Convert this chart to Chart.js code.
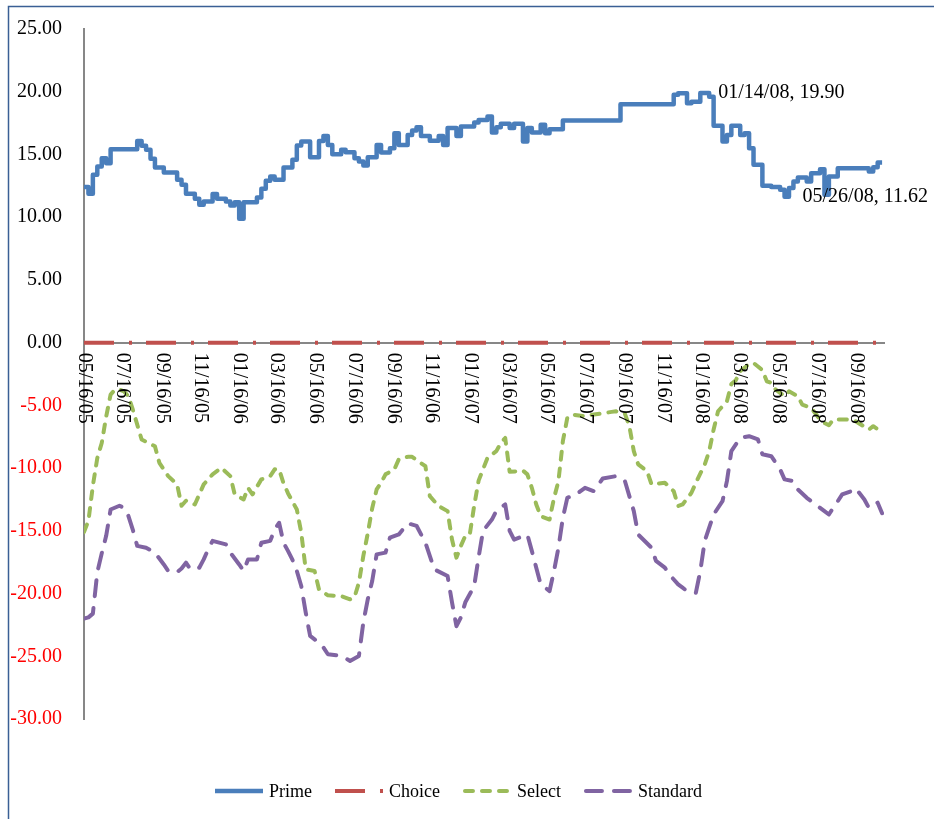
<!DOCTYPE html>
<html><head><meta charset="utf-8">
<script src="https://cdn.jsdelivr.net/npm/chart.js@4.4.0/dist/chart.umd.min.js"></script>
<style>html,body{margin:0;padding:0;background:#fff;}canvas{display:block;}</style>
</head><body>
<canvas id="c" width="934" height="819"></canvas>
<script>
// ---- data (x = weeks after 05/16/05, weekly Monday observations) ----
const startDate = '05/16/05';
const tickLabels = ['05/16/05','07/16/05','09/16/05','11/16/05','01/16/06','03/16/06','05/16/06','07/16/06','09/16/06','11/16/06','01/16/07','03/16/07','05/16/07','07/16/07','09/16/07','11/16/07','01/16/08','03/16/08','05/16/08','07/16/08','09/16/08'];
const yTickValues = [25,20,15,10,5,0,-5,-10,-15,-20,-25,-30];
const seriesNames = ['Prime','Choice','Select','Standard'];

const primeWeeks  = [0,1,2,3,4,5,6,12,13,14,15,16,18,21,22,23,25,26,27,29,30,32,33,34,35,36,39,40,41,42,43,45,47,48,49,51,53,54,55,56,58,59,61,62,63,64,66,67,69,70,71,73,74,75,76,78,80,81,82,84,85,88,89,91,92,93,94,96,97,99,100,101,103,104,105,108,121,133,134,136,137,139,141,142,144,145,146,148,149,150,151,153,155,157,158,159,160,161,163,164,166,167,168,170,177,178,179,180];
const primeValues = [12.4,11.86,13.38,14.04,14.7,14.3,15.42,16.08,15.7,15.37,14.65,13.96,13.56,12.98,12.58,11.86,11.46,10.99,11.25,11.84,11.46,11.25,10.93,11.2,9.87,11.2,11.57,12.26,12.9,13.24,12.98,13.96,14.57,15.71,16.03,14.78,16.08,16.48,15.76,15.02,15.37,15.18,14.7,14.44,14.12,14.78,15.76,15.15,15.5,16.7,15.76,16.56,16.9,17.17,16.48,16.1,16.48,15.76,17.1,16.48,17.22,17.54,17.75,18.02,16.75,17.17,17.44,17.1,17.44,16.03,17.1,16.75,17.36,16.7,17.0,17.7,19.0,19.75,19.88,19.08,19.2,19.9,19.6,17.28,16.03,16.56,17.28,16.56,16.7,15.5,14.17,12.5,12.4,12.18,11.62,12.32,12.85,13.16,12.85,13.51,13.83,11.78,13.24,13.9,13.64,13.99,14.36,14.36];

const choiceWeeks  = [0,180];
const choiceValues = [0,0];

const selectWeeks  = [0,1,2,3,4,5,6,7,8,9,10,11,13,16,17,19,21,22,23,25,27,29,31,33,34,36,37,38,40,42,43,44,45,46,48,49,50,52,53,55,58,60,61,62,63,64,65,66,67,68,70,71,73,74,76,77,78,80,82,83,84,85,86,87,88,89,91,93,94,95,96,98,99,100,101,102,103,105,106,107,108,109,110,113,115,119,120,122,123,124,125,127,128,131,133,134,135,137,138,140,141,142,143,145,146,147,148,150,151,152,153,154,155,156,158,159,161,162,164,166,167,168,169,172,174,176,177,178,179,180];
const selectValues = [-15.1,-14.2,-11.4,-9.2,-8.0,-5.9,-4.14,-3.74,-3.74,-3.88,-4.27,-5.33,-7.72,-8.26,-9.58,-10.64,-11.3,-13.0,-12.6,-12.9,-11.3,-10.5,-9.98,-10.64,-12.1,-12.5,-11.57,-12.1,-10.9,-10.64,-10.1,-10.1,-11.2,-12.0,-13.3,-15.15,-18.07,-18.2,-19.67,-20.14,-20.2,-20.46,-20.3,-19.13,-17.0,-15.2,-13.2,-11.7,-11.17,-10.5,-10.1,-9.3,-9.1,-9.1,-9.6,-9.85,-12.24,-13.03,-13.43,-15.7,-17.14,-16.2,-15.4,-15.3,-13.0,-11.0,-9.18,-8.65,-8.0,-7.6,-10.3,-10.25,-10.2,-10.5,-11.57,-12.9,-13.83,-14.1,-12.4,-11.04,-7.86,-6.0,-5.73,-5.87,-5.73,-5.52,-5.47,-5.68,-6.66,-8.65,-9.71,-10.25,-11.3,-11.17,-11.84,-13.03,-12.9,-11.97,-11.17,-9.71,-8.65,-6.93,-5.47,-4.67,-3.3,-3.0,-2.28,-1.7,-1.62,-1.9,-2.2,-3.08,-3.21,-3.74,-4.27,-3.88,-4.27,-4.94,-5.2,-6.13,-6.4,-6.58,-6.13,-6.13,-6.26,-6.7,-6.93,-6.66,-6.9,-7.3];

const standardWeeks  = [0,1,2,3,4,5,6,8,9,10,11,12,14,16,18,19,21,22,23,24,26,27,28,29,32,33,35,36,37,39,40,42,43,44,45,46,47,48,49,50,51,52,54,55,58,60,62,63,64,65,66,68,69,71,73,75,77,79,82,83,84,85,86,88,89,90,92,93,95,96,97,100,101,102,103,105,106,107,108,109,111,113,115,117,120,122,124,125,128,129,131,132,134,135,136,138,139,140,142,144,145,146,148,150,152,153,155,157,158,160,161,163,165,167,168,170,171,173,174,176,177,179,180];
const standardValues = [-22.0,-21.9,-21.6,-18.3,-16.8,-15.4,-13.3,-13.0,-13.16,-13.8,-14.9,-16.2,-16.35,-16.74,-17.68,-18.2,-18.3,-18.0,-17.54,-18.07,-17.94,-17.28,-16.48,-15.8,-16.08,-16.74,-17.68,-18.2,-17.28,-17.28,-15.95,-15.8,-14.9,-14.36,-15.95,-16.6,-17.3,-18.2,-19.4,-21.5,-23.38,-23.65,-24.3,-24.84,-24.97,-25.37,-24.97,-22.3,-20.46,-19.0,-16.88,-16.74,-15.55,-15.29,-14.4,-14.6,-15.95,-18.07,-18.6,-20.7,-22.6,-21.9,-20.7,-19.4,-17.1,-15.0,-14.1,-13.4,-12.9,-15.0,-15.7,-15.3,-16.6,-17.94,-19.27,-19.8,-18.2,-16.35,-13.96,-12.37,-12.1,-11.57,-11.84,-10.83,-10.64,-11.04,-13.43,-15.3,-16.35,-17.4,-17.94,-18.47,-19.27,-19.53,-19.8,-19.93,-18.2,-15.8,-13.7,-12.64,-11.04,-8.65,-7.59,-7.46,-7.72,-8.9,-9.05,-10.1,-10.9,-11.04,-11.7,-12.37,-12.9,-13.43,-13.7,-12.64,-12.1,-11.84,-11.6,-12.5,-13.16,-12.76,-13.6];

const pointLabels = [
  {week:139, value:19.90, text:'01/14/08, 19.90'},
  {week:158, value:11.62, text:'05/26/08, 11.62'}
];

// ---- helpers ----
function toDay(s){const [m,d,y]=s.split('/').map(Number);const [m0,d0,y0]=startDate.split('/').map(Number);
  return (Date.UTC(2000+y,m-1,d)-Date.UTC(2000+y0,m0-1,d0))/86400000;}
function pts(weeks,vals){return weeks.map((w,i)=>({x:w*7,y:vals[i]}));}

const FONT='"Liberation Serif","Times New Roman",serif';
const colors=['#4a7ebb','#c0504d','#9bbb59','#8064a2'];
const dashes=[[],[30,15,3,14],[8,9],[16,12]];
const caps=['butt','butt','round','round'];
const widths=[4.5,4,4,4];

const deco={
  id:'deco',
  beforeDraw(chart){const c=chart.ctx;c.save();c.fillStyle='#fff';c.fillRect(0,0,chart.width,chart.height);
    c.strokeStyle='#3a5f95';c.lineWidth=1.5;c.beginPath();c.moveTo(8.5,819);c.lineTo(8.5,6.5);c.lineTo(934,6.5);c.stroke();c.restore();},
  afterDraw(chart){
    const c=chart.ctx,xs=chart.scales.x,ys=chart.scales.y;
    c.save();
    c.fillStyle='#000';c.font='20px '+FONT;c.textBaseline='middle';c.textAlign='left';
    const y0=ys.getPixelForValue(0);
    tickLabels.forEach(t=>{const x=xs.getPixelForValue(toDay(t));c.save();c.translate(x,y0+10);c.rotate(Math.PI/2);c.fillText(t,0,0);c.restore();});
    pointLabels.forEach(p=>{c.fillText(p.text,xs.getPixelForValue(p.week*7)+18,ys.getPixelForValue(p.value));});
    // legend
    c.font='18px '+FONT;
    let x=215;const ly=791;
    seriesNames.forEach((n,i)=>{
      c.save();c.strokeStyle=colors[i];c.lineWidth=widths[i];c.setLineDash(dashes[i]);c.lineCap=caps[i];
      c.beginPath();c.moveTo(x+(caps[i]==='round'?2:0),ly);c.lineTo(x+48,ly);c.stroke();c.restore();
      x+=54;c.fillText(n,x,ly+1);x+=c.measureText(n).width+23;
    });
    c.restore();
  }
};

new Chart(document.getElementById('c'),{
  type:'line',
  data:{datasets:[
    {label:seriesNames[0],data:pts(primeWeeks,primeValues),stepped:true},
    {label:seriesNames[1],data:pts(choiceWeeks,choiceValues)},
    {label:seriesNames[2],data:pts(selectWeeks,selectValues)},
    {label:seriesNames[3],data:pts(standardWeeks,standardValues)}
  ].map((d,i)=>Object.assign(d,{borderColor:colors[i],backgroundColor:colors[i],borderWidth:widths[i],borderDash:dashes[i],borderCapStyle:caps[i],borderJoinStyle:'round',pointRadius:0,fill:false,tension:0}))},
  options:{
    responsive:false,animation:false,
    layout:{padding:{left:0,top:29,right:50,bottom:100}},
    plugins:{legend:{display:false},tooltip:{enabled:false}},
    scales:{
      x:{type:'linear',position:{y:0},min:0,max:1263,
        grid:{display:false,drawTicks:false},border:{display:true,color:'#878787',width:2},
        ticks:{display:false},
        afterBuildTicks:s=>{s.ticks=tickLabels.map(t=>({value:toDay(t)}));}},
      y:{type:'linear',min:-30,max:25,
        grid:{display:false,drawTicks:false},border:{display:true,color:'#878787',width:2},
        afterBuildTicks:s=>{s.ticks=yTickValues.map(v=>({value:v}));},
        ticks:{padding:22,font:{family:FONT,size:20},color:c=>c.tick.value<0?'#ff0000':'#000000',callback:v=>v.toFixed(2)},
        afterFit:s=>{s.width=84;s.paddingTop=0;s.paddingBottom=0;}}
    }
  },
  plugins:[deco]
});
</script>
</body></html>
